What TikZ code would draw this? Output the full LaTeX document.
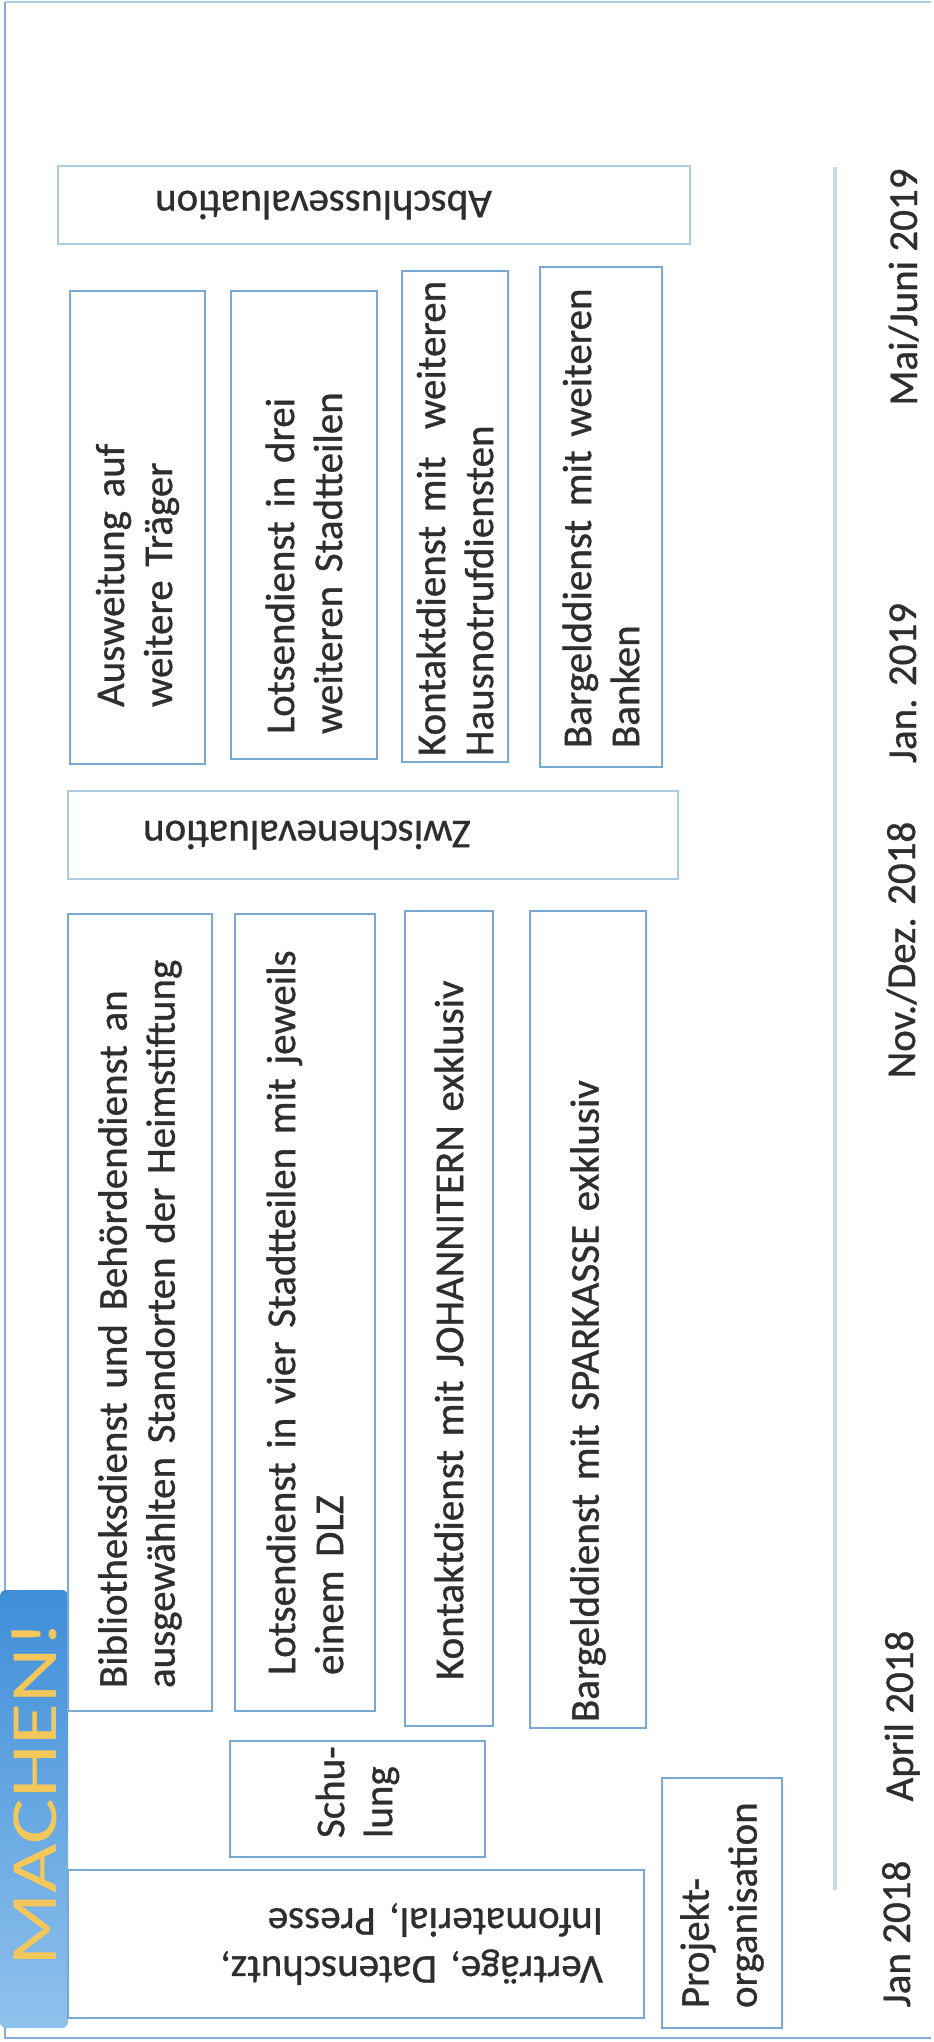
\documentclass[tikz,border=0pt]{standalone}
\usepackage{fontspec}
\setmainfont{Carlito}
\newfontfamily\scanfamily{Carlito}[FakeBold=0.8]
\usepackage{xcolor}
\definecolor{cBox}{HTML}{7BA7D3}
\definecolor{cBoxLight}{HTML}{AFCBE2}
\definecolor{cText}{HTML}{2E2E2E}
\definecolor{cAxis}{HTML}{C9D8E5}
\definecolor{cFrame}{HTML}{86ADD5}
\definecolor{cStripDark}{HTML}{3F8ED8}
\definecolor{cStripLight}{HTML}{8FC1EC}
\definecolor{cStripText}{HTML}{F3C75A}
\usepackage{tikz}
\newcommand\boxfont{\scanfamily\fontsize{20.5}{24}\selectfont
  \hyphenpenalty=10000 \exhyphenpenalty=10000 }
\tikzset{
  phase-box/.style={draw=cBox,line width=1.2pt,rotate=90,inner sep=0pt,
    align=left,font=\boxfont,text=cText},
  eval-box/.style={draw=cBoxLight,line width=1.2pt,rotate=180,inner sep=0pt,
    font=\boxfont,text=cText},
  date-label/.style={rotate=90,anchor=base,inner sep=0pt,font=\boxfont,
    text=cText},
  strip-box/.style={rotate=90,inner sep=0pt,rounded corners=3pt,
    top color=cStripDark,bottom color=cStripLight,text=cStripText,
    font=\fontsize{33}{33}\selectfont},
  frame-line/.style={draw=cFrame,line width=1.2pt},
  axis-line/.style={draw=cAxis,line width=1.6pt},
}

\begin{document}
\begin{tikzpicture}[x=0.5pt,y=-0.5pt]
  \useasboundingbox (0,0) rectangle (933,2042);
  % Rahmen und Zeitachse
  \draw[frame-line,draw=cBoxLight] (931,2) -- (5,2);
  \draw[frame-line] (5,2) -- (5,2038) -- (931,2038);
  \coordinate (axis-top) at (835,167);
  \coordinate (axis-end) at (835,1890);
  \draw[axis-line] (axis-top) -- (axis-end);

  \node[strip-box,minimum width=219pt,minimum height=34pt] (machen)
    at (34,1809) {\hspace*{15.5pt}\scalebox{1.3}[1]{MACHEN!}};

  % Phase 1
  \node[eval-box,draw=cBox,align=left,minimum width=288pt,minimum height=74pt,
    inner xsep=20.5pt,text width=247pt] (vertraege) at (356,1944)
    {Verträge, Datenschutz,\\Infomaterial, Presse};
  \node[phase-box,minimum width=58pt,minimum height=127.5pt,
    inner xsep=9.5pt,text width=39pt] (schulung) at (357.5,1799)
    {\mbox{Schu-}\\lung};
  \node[phase-box,minimum width=125pt,minimum height=60pt,
    inner xsep=10pt,text width=105pt] (projekt) at (722,1903)
    {Projekt-\\organisation};
  \node[phase-box,minimum width=398.5pt,minimum height=72pt,
    inner xsep=11.5pt,text width=375.5pt] (bib1) at (140,1312.5)
    {Bibliotheksdienst und Behördendienst an\\ausgewählten Standorten der Heimstiftung};
  \node[phase-box,minimum width=398.5pt,minimum height=70pt,
    inner xsep=18pt,text width=362.5pt] (lotsen1) at (305,1312.5)
    {\mbox{Lotsendienst in vier Stadtteilen mit jeweils}\\einem DLZ};
  \node[phase-box,minimum width=407.5pt,minimum height=44pt,
    inner xsep=23pt,text width=361.5pt] (kontakt1) at (449,1318.5)
    {Kontaktdienst mit JOHANNITERN exklusiv};
  \node[phase-box,minimum width=408.5pt,minimum height=58pt,
    inner xsep=3pt,text width=402.5pt] (bargeld1) at (588,1319.5)
    {Bargelddienst mit SPARKASSE exklusiv};

  \node[eval-box,align=right,minimum width=305pt,minimum height=44pt,
    inner xsep=37.5pt,text width=230pt] (zwischen) at (373,835)
    {Zwischenevaluation};

  % Phase 2
  \node[phase-box,minimum width=236.5pt,minimum height=67.5pt,
    inner xsep=28.5pt,text width=179.5pt] (ausweitung) at (137.5,527.5)
    {Ausweitung auf\\weitere Träger};
  \node[phase-box,minimum width=234pt,minimum height=73pt,
    inner xsep=12.5pt,text width=209pt] (lotsen2) at (304,525)
    {Lotsendienst in drei\\weiteren Stadtteilen};
  \node[phase-box,minimum width=245.5pt,minimum height=53pt,
    inner xsep=3pt,text width=239.5pt] (kontakt2) at (455,516.5)
    {\mbox{Kontaktdienst mit\ \ weiteren}\\Hausnotrufdiensten};
  \node[phase-box,minimum width=250pt,minimum height=61pt,
    inner xsep=9.5pt,text width=231pt] (bargeld2) at (601,517)
    {\mbox{Bargelddienst mit weiteren}\\Banken};

  \node[eval-box,align=right,minimum width=316pt,minimum height=39pt,
    inner xsep=48.5pt,text width=219pt] (abschluss) at (374,205)
    {Abschlussevaluation};

  % Zeitpunkte
  \node[date-label] (jan18) at (910,1934) {Jan 2018};
  \node[date-label] (apr18) at (913,1716) {April 2018};
  \node[date-label] (nov18) at (915,950) {Nov./Dez. 2018};
  \node[date-label] (jan19) at (916,683) {Jan. 2019};
  \node[date-label] (mai19) at (917,287) {Mai/Juni 2019};
\end{tikzpicture}
\end{document}
